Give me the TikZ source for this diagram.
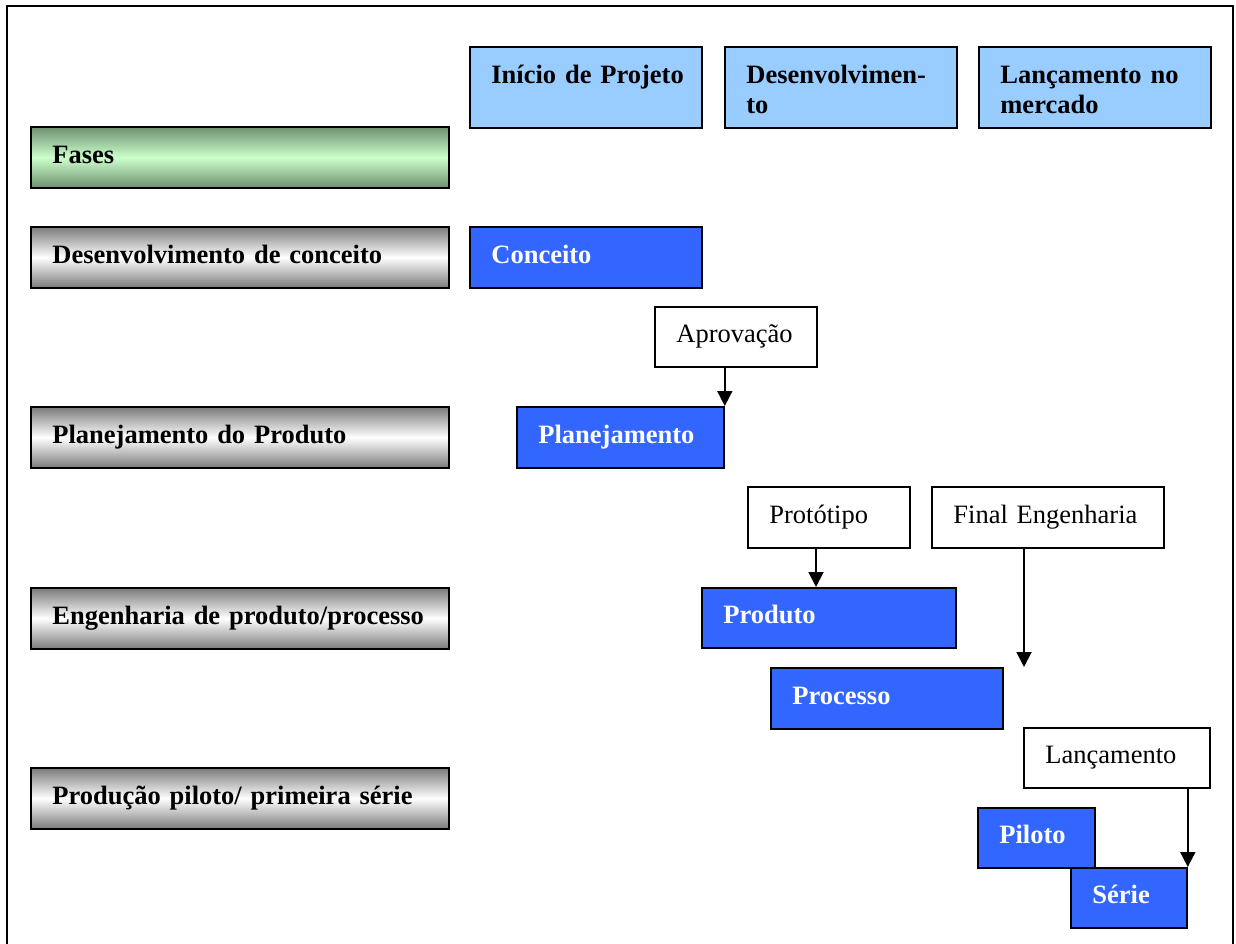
\documentclass[tikz,border=0pt]{standalone}
\usepackage{fontspec}
\setmainfont{Liberation Serif}
\usetikzlibrary{arrows.meta}

\definecolor{phaseblue}{HTML}{99CCFF}
\definecolor{taskblue}{HTML}{3366FF}
\definecolor{greenmid}{HTML}{CCFFCC}
\definecolor{greenedge}{HTML}{6F8F6F}
\definecolor{grayedge}{HTML}{7A7A7A}

\begin{document}
\begin{tikzpicture}[x=1pt,y=-1pt,
  box/.style={draw=black, line width=1.8pt, rectangle, anchor=north west,
    inner ysep=0pt, inner xsep=21.5pt, text height=18pt, text depth=6pt,
    align=left, font=\fontsize{26.5}{30}\selectfont\bfseries},
  bx/.style n args={4}{at={(#1,#2)}, minimum width=#3pt, minimum height=#4pt,
    text width=#3pt-43pt},
  stagebox/.style={box, top color=grayedge, bottom color=grayedge, middle color=white},
  headbox/.style={box, top color=greenedge, bottom color=greenedge, middle color=greenmid},
  phasebox/.style={box, fill=phaseblue, text depth=25pt},
  taskbox/.style={box, fill=taskblue, text=white},
  markbox/.style={box, fill=white, font=\fontsize{26.5}{30}\selectfont},
  arr/.style={line width=1.8pt, -{Triangle[width=15pt,length=15pt]}}
]
\useasboundingbox (0,0) rectangle (1236,944);

% page frame
\draw[line width=2pt] (7,944) -- (7,6) -- (1233,6) -- (1233,944);

% phase headers
\node[phasebox, bx={469}{46}{232}{81}] (inicio) {\mbox{Início de Projeto}};
\node[phasebox, bx={724}{46}{232}{81}] (desenv) {\mbox{Desenvolvimen-}\\to};
\node[phasebox, bx={978}{46}{232}{81}] (lancmerc) {\mbox{Lançamento no}\\mercado};

% stage column
\node[headbox, bx={30}{126}{418}{61}] (fases) {Fases};
\node[stagebox, bx={30}{226}{418}{61}] (s1) {\mbox{Desenvolvimento de conceito}};
\node[stagebox, bx={30}{406}{418}{61}] (s2) {\mbox{Planejamento do Produto}};
\node[stagebox, bx={30}{587}{418}{61}] (s3) {\mbox{Engenharia de produto/processo}};
\node[stagebox, bx={30}{767}{418}{61}] (s4) {\mbox{Produção piloto/ primeira série}};

% activities
\node[taskbox, bx={469}{226}{232}{61}] (conceito) {Conceito};
\node[taskbox, bx={516}{406}{207}{61}] (planej) {Planejamento};
\node[taskbox, bx={701}{587}{254}{60}] (produto) {Produto};
\node[taskbox, bx={770}{667}{232}{61}] (processo) {Processo};
\node[taskbox, bx={977}{807}{117}{60}] (piloto) {Piloto};
\node[taskbox, bx={1070}{867}{116}{60}] (serie) {Série};

% milestones
\node[markbox, bx={654}{306}{162}{60}] (aprov) {Aprovação};
\node[markbox, bx={747}{486}{162}{61}] (proto) {Protótipo};
\node[markbox, bx={931}{486}{232}{61}] (finaleng) {\mbox{Final Engenharia}};
\node[markbox, bx={1023}{727}{186}{60}] (lanc) {Lançamento};

% milestone arrows
\draw[arr] (aprov.south -| planej.north east) -- (planej.north east);
\draw[arr] ([xshift=69pt]proto.south west) coordinate (pt) -- (pt |- produto.north);
\draw[arr] ([xshift=93pt]finaleng.south west) coordinate (fe) -- (fe |- processo.north);
\draw[arr] (lanc.south -| serie.north east) -- (serie.north east);
\end{tikzpicture}
\end{document}
